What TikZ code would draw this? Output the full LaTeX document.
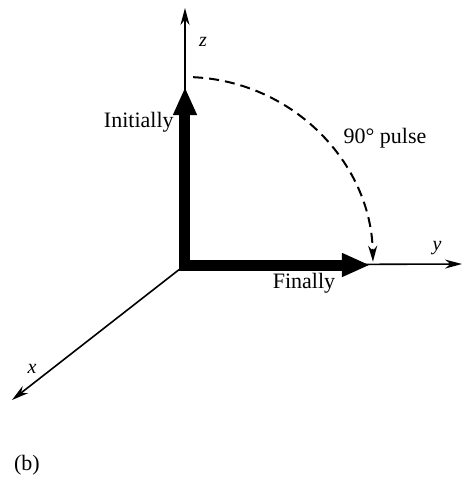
\documentclass[tikz,border=0pt]{standalone}
\usepackage{fontspec}
\setmainfont{Liberation Serif}
\usepackage{tikz}
\usetikzlibrary{calc}
\usetikzlibrary{arrows.meta}

\tikzset{
	axis/.style={line width=0.8pt,-{Stealth[length=8.5pt,width=4.5pt]}},
	spin/.style={line width=5.5pt,-{Triangle[length=14pt,width=11pt]}},
	pulse/.style={line width=1pt,dash pattern=on 5pt off 3pt,-{Stealth[length=8pt,width=4.5pt]}},
	lbl/.style={inner sep=0pt,font=\fontsize{11}{11}\selectfont},
	axlbl/.style={inner sep=0pt,font=\fontsize{10}{10}\selectfont\itshape},
}

\begin{document}
\begin{tikzpicture}[x=0.5pt,y=0.5pt]

\useasboundingbox (-185,-223) rectangle (278,265);

\begin{scope}
\coordinate (O) at (0,0);
\coordinate (ztip) at (0,257);
\coordinate (ytip) at (277,1);
\coordinate (xtip) at (-173,-135);
\coordinate (Mz) at (0,178);
\coordinate (My) at (185,0);
\coordinate (Mz0) at (0,-5.5);
\coordinate (My0) at (-5.5,0);

% axes
\draw [axis] (O) -- (ztip);
\draw [axis] (O) -- (ytip);
\draw [axis] (O) -- (xtip);

\node [axlbl] (zlab) at (18,223) {z};
\node [axlbl] (ylab) at (252,17) {y};
\node [axlbl] (xlab) at (-153,-104) {x};

% magnetisation before and after
\draw [spin] (Mz0) -- (Mz);
\draw [spin] (My0) -- (My);

\node [lbl,anchor=east] (init) at (-11,143) {Initially};
\node [lbl] (fin) at (119,-18) {Finally};

% rotation by the pulse
\draw [pulse] (O) ++(87.5:188) arc [start angle=87.5, end angle=1, radius=188];
\node [lbl] (plab) at (200,127) {90° pulse};

\node [lbl] (cap) at (-158,-200) {(b)};
\end{scope}

\end{tikzpicture}
\end{document}
